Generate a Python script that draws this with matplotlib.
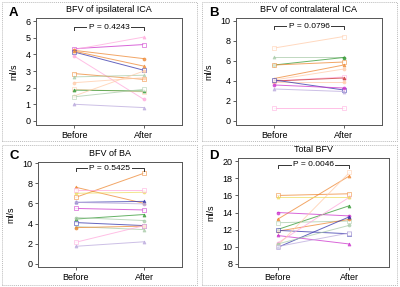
import matplotlib
matplotlib.use("Agg")
import matplotlib.pyplot as plt
from matplotlib.patches import Rectangle

plt.rcParams["font.family"] = ["Liberation Sans", "DejaVu Sans"]

# colours used in the original
MAG = "#cc33cc"
PUR = "#3333aa"
ORA = "#ee8833"
OLI = "#999966"
RED = "#cc3333"
GRN = "#339933"
YEL = "#eedd66"
PNK = "#ffaadd"
PCH = "#ffccaa"
LAV = "#bbaadd"
LGR = "#aaccaa"

# panel A: ipsilateral ICA
a_before = [4.35, 4.30, 4.25, 4.15, 4.20, 3.90, 2.85, 2.65, 2.30, 1.90, 1.85, 1.50, 1.45, 1.00]
a_after = [4.60, 5.05, 3.75, 3.05, 3.30, 1.30, 2.50, 2.75, 2.60, 1.75, 1.80, 3.00, 1.90, 0.80]
a_colors = [MAG, PNK, ORA, PUR, ORA, PNK, ORA, LGR, PCH, PCH, GRN, PCH, LGR, LAV]

# panel B: contralateral ICA
b_before = [7.30, 6.40, 5.60, 5.60, 4.25, 4.10, 4.00, 4.00, 3.90, 4.10, 3.20, 3.60, 1.30]
b_after = [8.45, 6.40, 6.35, 5.90, 5.60, 5.20, 4.40, 4.30, 3.90, 3.10, 2.95, 3.30, 1.30]
b_colors = [PCH, LGR, GRN, ORA, ORA, PCH, PNK, RED, PCH, PUR, LAV, MAG, PNK]

# panel C: BA
c_before = [6.60, 7.60, 7.00, 7.30, 6.10, 6.10, 5.50, 4.45, 4.60, 4.10, 3.70, 3.60, 2.15, 1.75]
c_after = [9.00, 6.00, 7.10, 7.30, 6.20, 5.95, 5.35, 4.90, 4.30, 3.80, 3.40, 3.75, 3.80, 2.20]
c_colors = [ORA, ORA, YEL, PNK, PUR, LAV, MAG, GRN, LGR, PUR, LGR, ORA, PNK, LAV]

# panel D: total
d_before = [16.0, 13.2, 14.0, 12.8, 12.0, 11.8, 11.9, 11.3, 10.4, 10.1, 9.9, 10.3, 10.0, 15.8]
d_after = [16.2, 18.3, 13.6, 13.0, 14.8, 13.2, 11.5, 10.3, 15.8, 18.7, 13.5, 12.5, 11.6, 15.8]
d_colors = [ORA, ORA, MAG, LGR, GRN, ORA, PUR, MAG, PNK, PCH, PUR, LGR, LAV, YEL]

panels = [
    ("A", "BFV of ipsilateral ICA", a_before, a_after, a_colors, (-0.25, 6.2), range(0, 7), 5.65, "P = 0.4243"),
    ("B", "BFV of contralateral ICA", b_before, b_after, b_colors, (-0.4, 10.3), range(0, 11, 2), 9.5, "P = 0.0796"),
    ("C", "BFV of BA", c_before, c_after, c_colors, (-0.3, 10.1), range(0, 11, 2), 9.5, "P = 0.5425"),
    ("D", "Total BFV", d_before, d_after, d_colors, (7.6, 20.4), range(8, 21, 2), 19.6, "P = 0.0046"),
]

# axes rectangles in pixels (left, top, right, bottom)
boxes = [(36, 18, 182, 125), (236, 18, 382, 125), (38, 162, 182, 267), (238, 158, 389, 267)]
frames = [(2, 2, 197, 141), (202, 2, 397, 141), (2, 145, 197, 285), (202, 145, 397, 285)]
markers = ["s", "^", "o", "s", "^", "o", "s", "^", "o", "s", "^", "o", "s", "^"]

W, H = 400, 287
fig = plt.figure(figsize=(4, 2.87), dpi=100)

for (letter, title, bef, aft, cols, ylim, yt, py, ptxt), (l, t, r, b), (fl, ft, fr, fb) in zip(panels, boxes, frames):
    fig.add_artist(Rectangle((fl / W, 1 - fb / H), (fr - fl) / W, (fb - ft) / H, transform=fig.transFigure,
                             fill=False, ec="#bbbbbb", lw=0.7, ls=(0, (1, 1))))
    ax = fig.add_axes([l / W, 1 - b / H, (r - l) / W, (b - t) / H])
    for i, (y0, y1, c) in enumerate(zip(bef, aft, cols)):
        m = markers[i % len(markers)]
        ax.plot([0, 1], [y0, y1], color=c, lw=0.7, alpha=0.75, marker=m, ms=2.2,
                mfc=c if i % 3 else "white", mec=c, mew=0.5)
    ax.set_xlim(-0.55, 1.55)
    ax.set_ylim(*ylim)
    ax.set_yticks(list(yt))
    ax.set_xticks([0, 1])
    ax.set_xticklabels(["Before", "After"])
    ax.tick_params(labelsize=6.5, length=2, width=0.6, color="#444444", pad=2)
    for s in ax.spines.values():
        s.set_color("#555555")
        s.set_linewidth(0.7)
    ax.set_ylabel("ml/s", fontsize=6.5, labelpad=5)
    ax.set_title(title, fontsize=6.5, pad=4)
    # significance bracket
    dy = (ylim[1] - ylim[0]) * 0.025
    ax.plot([0, 0, 1, 1], [py - dy, py, py, py - dy], color="#333333", lw=0.7)
    ax.text(0.5, py, ptxt, ha="center", va="center", fontsize=6,
            bbox=dict(fc="white", ec="none", pad=1.0))
    fig.text((fl + 7) / W, 1 - (ft + 11) / H, letter, fontsize=9.5, fontweight="bold", va="center")

fig.savefig("out.png", dpi=100)
